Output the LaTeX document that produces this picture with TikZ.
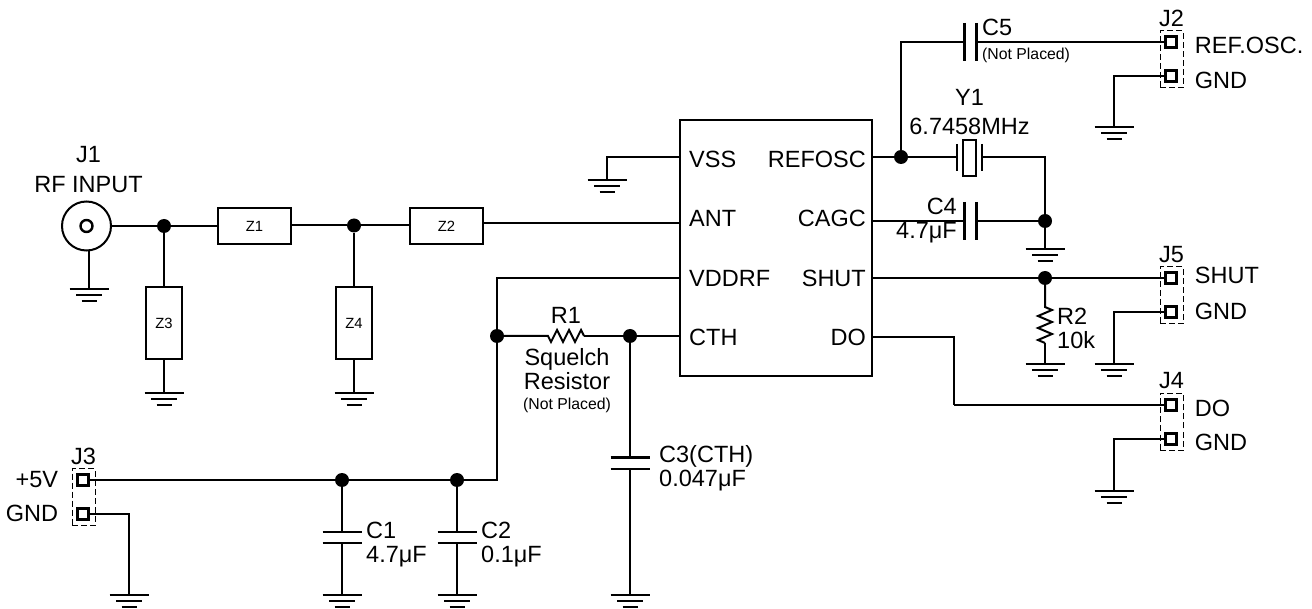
\documentclass[tikz,border=0pt]{standalone}
\usepackage{fontspec}
\setmainfont{Liberation Sans}
\usetikzlibrary{positioning}

\begin{document}
\begin{tikzpicture}[
    x=1pt, y=-1pt,
    wire/.style={line width=2pt, line join=miter},
    plate/.style={line width=2.4pt},
    chipbox/.style={rectangle, draw, line width=2.4pt, minimum width=192pt, minimum height=256pt},
    zbox/.style={rectangle, draw, line width=2.2pt, inner sep=0pt, font=\fontsize{14.8}{16}\selectfont},
    zwide/.style={zbox, minimum width=73pt, minimum height=36pt},
    ztall/.style={zbox, minimum width=36.5pt, minimum height=72pt},
    dotj/.style={circle, fill=black, inner sep=0pt, minimum size=14pt},
    pinsq/.style={rectangle, draw, line width=2.4pt, inner sep=0pt, minimum size=11pt},
    connbox/.style={rectangle, draw, dash pattern=on 6pt off 3pt, line width=1pt, minimum width=23pt, minimum height=57pt},
    lbl/.style={inner sep=0pt, font=\fontsize{23.5}{24}\selectfont},
    small/.style={inner sep=0pt, font=\fontsize{15.8}{18}\selectfont},
    gnd/.pic={
        \draw[wire] (-19.5,0) -- (19.5,0);
        \draw[wire] (-13,6) -- (13,6);
        \draw[wire] (-7.5,12) -- (7.5,12);
    },
    hcap/.pic={
        \draw[plate] (-19.5,-5.7) -- (19.5,-5.7);
        \draw[plate] (-19.5,5.7) -- (19.5,5.7);
    },
    vcap/.pic={
        \draw[plate] (-6,-19) -- (-6,19);
        \draw[plate] (6,-19) -- (6,19);
    }
]
\useasboundingbox (0,0) rectangle (1312,609);

\node[chipbox] (chip) at (776,248) {};
\coordinate (pvss) at (680,157);
\coordinate (pant) at (680,223);
\coordinate (pvdd) at (680,278);
\coordinate (pcth) at (680,336);
\coordinate (prefosc) at (872,157);
\coordinate (pcagc) at (872,221);
\coordinate (pshut) at (872,278);
\coordinate (pdo) at (872,337);
\node[lbl, right=9pt of pvss, yshift=-2pt] (tvss) {VSS};
\node[lbl, right=9pt of pant, yshift=5pt] (tant) {ANT};
\node[lbl, right=9pt of pvdd] (tvdd) {VDDRF};
\node[lbl, right=9pt of pcth, yshift=-1pt] (tcth) {CTH};
\node[lbl, left=6pt of prefosc, yshift=-2pt] (trefosc) {REFOSC};
\node[lbl, left=6pt of pcagc, yshift=3pt] (tcagc) {CAGC};
\node[lbl, left=6pt of pshut] (tshut) {SHUT};
\node[lbl, left=6pt of pdo] (tdo) {DO};

\node[circle, draw, line width=2pt, inner sep=0pt, minimum size=49pt] (j1) at (86.5,226) {};
\node[circle, draw, line width=2.4pt, inner sep=0pt, minimum size=12pt] (j1core) at (86.5,226) {};
\node[lbl, align=center, above=8pt of j1, xshift=2pt] (tj1) {J1\\[6pt]RF INPUT};
\node[zwide] (z1) at (254.5,226) {Z1};
\node[zwide] (z2) at (446.5,226) {Z2};
\node[ztall] (z3) at (164,323) {Z3};
\node[ztall] (z4) at (354,323) {Z4};
\node[dotj] (d1) at (164,226) {};
\node[dotj] (d2) at (354,225.5) {};
\coordinate (gj1) at (89,289);
\coordinate (gz3) at (164,393);
\coordinate (gz4) at (354,393);
\coordinate (gvss) at (607,180);
\coordinate (j1foot) at (89,251);
\pic at (gj1) {gnd};
\pic at (gz3) {gnd};
\pic at (gz4) {gnd};
\pic at (gvss) {gnd};

\draw[wire] (j1) -- (d1);
\draw[wire] (d1) -- (z1.west |- d1);
\draw[wire] (z1.east |- d2) -- (d2);
\draw[wire] (d2) -- (z2.west |- d2);
\draw[wire] (z2.east |- pant) -- (pant);
\draw[wire] (d1) -- (z3);
\draw[wire] (d2) -- (z4);
\draw[wire] (z3) -- (gz3);
\draw[wire] (z4) -- (gz4);
\draw[wire] (j1foot) -- (gj1);
\draw[wire] (pvss) -| (gvss);

\node[connbox] (j3box) at (83.5,497) {};
\node[pinsq] (j3a) at (83,480) {};
\node[pinsq] (j3b) at (83,514) {};
\node[lbl, above=3pt of j3box] (tj3) {J3};
\node[lbl, left=18pt of j3a] (t5v) {+5V};
\node[lbl, left=18pt of j3b, yshift=1pt] (tg3) {GND};
\node[dotj] (d3) at (342,480) {};
\node[dotj] (d4) at (457,480) {};
\node[dotj] (d5) at (497,336) {};
\node[dotj] (d6) at (630,336) {};
\coordinate (kvdd) at (497,480);
\coordinate (kvddt) at (497,278);
\coordinate (g3) at (129,595);
\coordinate (gc1) at (342,595);
\coordinate (gc2) at (457,595);
\coordinate (gc3) at (630,595);
\coordinate (c1c) at (342,537.5);
\coordinate (c2c) at (457,537.5);
\coordinate (c3c) at (630,463);
\coordinate (c1a) at (342,532);
\coordinate (c1b) at (342,543);
\coordinate (c2a) at (457,532);
\coordinate (c2b) at (457,543);
\coordinate (c3a) at (630,457);
\coordinate (c3b) at (630,469);
\pic at (g3) {gnd};
\pic at (gc1) {gnd};
\pic at (gc2) {gnd};
\pic at (gc3) {gnd};
\pic at (c1c) {hcap};
\pic at (c2c) {hcap};
\pic at (c3c) {hcap};
\node[lbl, align=left, right=24pt of c1c, yshift=-7pt] (tc1) {C1\\4.7μF};
\node[lbl, align=left, right=24pt of c2c, yshift=-7pt] (tc2) {C2\\0.1μF};
\node[lbl, align=left, right=29pt of c3c, yshift=-5.5pt] (tc3) {C3(CTH)\\0.047μF};

\draw[wire] (j3a) -- (d3);
\draw[wire] (d3) -- (d4);
\draw[wire] (d4) -- (kvdd) -- (d5);
\draw[wire] (d5) -- (kvddt) -- (pvdd);
\draw[wire] (j3b) -| (g3);
\draw[wire] (d3) -- (c1a);
\draw[wire] (c1b) -- (gc1);
\draw[wire] (d4) -- (c2a);
\draw[wire] (c2b) -- (gc2);
\draw[wire] (d6) -- (c3a);
\draw[wire] (c3b) -- (gc3);

\coordinate (r1a) at (548,336);
\coordinate (r1b) at (584,336);
\node[lbl, above=12pt of r1a, xshift=18pt] (tr1) {R1};
\node[lbl, align=center, below=12pt of r1a, xshift=19pt] (tsq) {Squelch\\Resistor};
\node[small, below=8pt of tsq] (tnp1) {(Not Placed)};
\draw[wire] (d5) -- (r1a) -- ++(3,6) -- ++(6,-12) -- ++(6,12) -- ++(6,-12) -- ++(6,12) -- ++(6,-12) -- (r1b);
\draw[wire] (r1b) -- (d6);
\draw[wire] (d6) -- (pcth);

\node[dotj] (d7) at (901,157) {};
\node[dotj] (d8) at (1045,221) {};
\node[dotj] (d9) at (1045,278) {};
\node[rectangle, draw, plate, inner sep=0pt, minimum width=13pt, minimum height=36pt] (y1) at (969.5,158) {};
\coordinate (y1a) at (957,157);
\coordinate (y1b) at (982,157);
\node[lbl, align=center, above=4pt of y1] (ty1) {Y1\\[5pt]6.7458MHz};
\draw[plate] (957,144) -- (957,171);
\draw[plate] (982,144) -- (982,171);
\coordinate (c4c) at (970.5,221);
\coordinate (c4a) at (964.5,221);
\coordinate (c4b) at (976.5,221);
\coordinate (c5c) at (970.5,42);
\coordinate (c5a) at (964.5,42);
\coordinate (c5b) at (976.5,42);
\pic at (c4c) {vcap};
\pic at (c5c) {vcap};
\coordinate (gc4) at (1045,249);
\pic at (gc4) {gnd};
\node[lbl, align=right, left=13.5pt of c4c] (tc4) {C4\\4.7μF};
\node[lbl, right=11.5pt of c5c, yshift=15pt] (tc5) {C5};
\node[small, right=11.5pt of c5c, yshift=-13pt] (tnp2) {(Not Placed)};

\draw[wire] (prefosc) -- (d7);
\draw[wire] (d7) -- (y1a);
\draw[wire] (y1b) -| (d8);
\draw[wire] (pcagc) -- (c4a);
\draw[wire] (c4b) -- (d8);
\draw[wire] (d8) -- (gc4);
\draw[wire] (pshut) -- (d9);

\node[connbox] (j2box) at (1171.5,59.5) {};
\node[pinsq] (j2a) at (1171,42) {};
\node[pinsq] (j2b) at (1171,76) {};
\node[lbl, above=4pt of j2box] (tj2) {J2};
\node[lbl, right=17pt of j2a, yshift=-3pt] (tref) {REF.OSC.};
\node[lbl, right=17pt of j2b, yshift=-4pt] (tg2) {GND};
\coordinate (g2) at (1114,127);
\pic at (g2) {gnd};
\draw[wire] (d7) |- (c5a);
\draw[wire] (c5b) -- (j2a);
\draw[wire] (j2b) -| (g2);

\node[connbox] (j5box) at (1171.5,295.5) {};
\node[pinsq] (j5a) at (1171,278) {};
\node[pinsq] (j5b) at (1171,312) {};
\node[lbl, above=4pt of j5box] (tj5) {J5};
\node[lbl, right=17pt of j5a, yshift=3pt] (tshut2) {SHUT};
\node[lbl, right=17pt of j5b, yshift=1pt] (tg5) {GND};
\coordinate (g5) at (1114,364);
\pic at (g5) {gnd};
\coordinate (gr2) at (1045,364);
\pic at (gr2) {gnd};
\coordinate (r2a) at (1045,307);
\coordinate (r2b) at (1045,343);
\node[lbl, align=left, right=12pt of r2a, yshift=-21pt] (tr2) {R2\\10k};
\draw[wire] (d9) -- (r2a) -- ++(7,3) -- ++(-14,6) -- ++(14,6) -- ++(-14,6) -- ++(14,6) -- ++(-14,6) -- (r2b);
\draw[wire] (r2b) -- (gr2);
\draw[wire] (d9) -- (j5a);
\draw[wire] (j5b) -| (g5);

\node[connbox] (j4box) at (1171.5,422) {};
\node[pinsq] (j4a) at (1171,405) {};
\node[pinsq] (j4b) at (1171,439) {};
\node[lbl, above=4pt of j4box] (tj4) {J4};
\node[lbl, right=17pt of j4a, yshift=-3pt] (tdo2) {DO};
\node[lbl, right=17pt of j4b, yshift=-3pt] (tg4) {GND};
\coordinate (kdo) at (954,405);
\coordinate (g4) at (1114,491);
\pic at (g4) {gnd};
\draw[wire] (pdo) -| (kdo);
\draw[wire] (kdo) -- (j4a);
\draw[wire] (j4b) -| (g4);

\end{tikzpicture}
\end{document}
